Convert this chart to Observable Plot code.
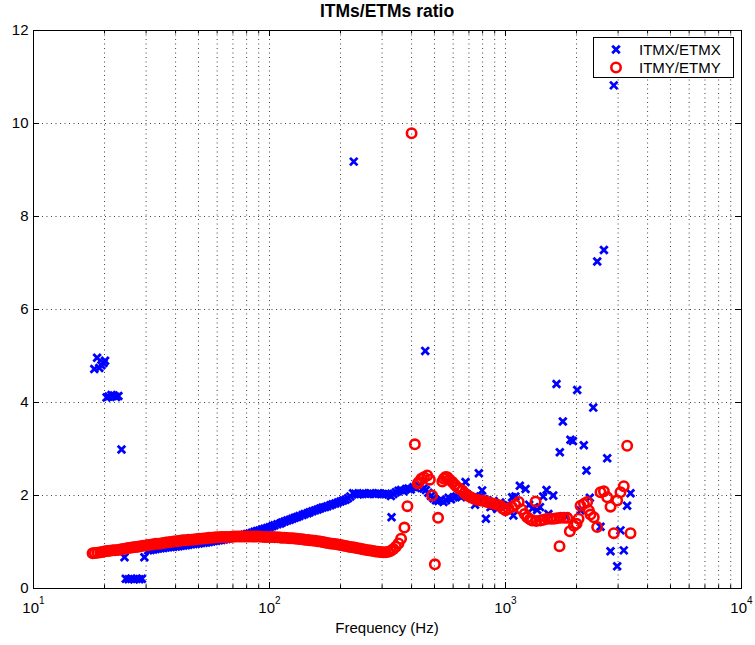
<!DOCTYPE html>
<html><head><meta charset="utf-8">
<script src="https://cdn.jsdelivr.net/npm/d3@7"></script>
<script src="https://cdn.jsdelivr.net/npm/@observablehq/plot@0.6"></script>
<style>body{margin:0;background:#fff}#c{width:755px;height:645px}</style>
</head><body><div id="c"></div>
<script>
// ITMX/ETMX ratio: [frequency Hz, ratio]
const itmx = [[18.1,4.72],[18.6,4.96],[19.0,4.74],[19.4,4.80],[19.8,4.85],[20.1,4.90],
[20.4,4.11],[20.8,4.13],[21.4,4.16],[21.9,4.15],[22.4,4.12],[22.9,4.14],[23.6,2.99],[24.3,0.67],
[24.6,0.21],[25.3,0.20],[26.0,0.21],[26.7,0.20],[27.4,0.21],[28.1,0.20],[28.8,0.21],[29.5,0.67],
[30.6,.82],[31.4,.83],[32.2,.84],[33.0,.85],[33.8,.86],[34.6,.865],[35.5,.87],[36.4,.88],[37.3,.885],
[38.2,.89],[39.2,.90],[40.2,.905],[41.2,.91],[42.2,.92],[43.2,.925],[44.3,.93],[45.4,.94],[46.6,.95],
[47.7,.955],[48.9,.96],[50.2,.97],[51.4,.98],[52.7,.985],[54.0,.99],[55.4,1.00],[56.8,1.01],[58.2,1.02],
[59.6,1.025],[61.1,1.035],[62.6,1.045],[64.2,1.055],[65.8,1.065],[67.5,1.08],[69.2,1.09],[70.9,1.10],
[72.7,1.115],[74.5,1.13],[76.3,1.14],[78.2,1.155],[80.2,1.17],[82.2,1.185],[84.3,1.20],[86.4,1.22],
[88.5,1.235],[90.7,1.25],[93.0,1.27],[95.3,1.285],[97.7,1.30],[100.2,1.32],[102.7,1.34],[105,1.36],
[108,1.38],[111,1.40],[113,1.42],[116,1.44],[119,1.46],[122,1.48],[125,1.50],[128,1.52],[131,1.54],
[134,1.56],[138,1.58],[141,1.60],[145,1.62],[148,1.64],[152,1.66],[156,1.68],[160,1.70],[164,1.72],
[168,1.74],[172,1.75],[176,1.77],[181,1.79],[185,1.81],[190,1.83],[195,1.85],[200,1.87],[205,1.89],
[210,1.91],[215,1.94],[220,1.98],[226,2.05],[227.5,9.18],[231,2.04],[237,2.02],[243,2.03],[249,2.05],
[255,2.04],[262,2.03],[268,2.05],[275,2.04],[282,2.03],[289,2.05],[296,2.04],[303,2.03],[311,2.04],
[319,2.02],[327,1.99],[329,1.53],[335,2.03],[343,2.07],[352,2.10],[361,2.12],[370,2.09],[379,2.14],
[388,2.15],[397,2.13],[407,2.18],[417,2.16],[427,2.21],[438,2.22],[449,2.15],[457,5.11],[460,2.12],
[471,2.06],[483,1.99],[495,1.94],[507,1.90],[520,1.88],[533,1.91],[546,1.86],[560,1.90],[574,1.95],
[588,1.92],[603,1.96],[618,1.98],[633,2.02],[649,1.96],[665,2.00],[677,2.29],[690,2.02],[707,1.98],
[725,1.94],[743,1.80],[762,1.95],[771,2.48],[781,1.98],[796,2.11],[810,1.92],[826,1.50],[840,1.90],
[864,1.75],[890,1.88],[922,1.71],[950,1.85],[984,1.78],[1020,1.80],[1067,1.96],[1080,1.57],[1101,1.98],
[1150,2.21],[1216,2.14],[1260,1.80],[1300,1.72],[1361,1.69],[1400,1.75],[1444,1.98],[1492,2.12],
[1520,1.60],[1593,2.00],[1645,4.40],[1699,2.93],[1750,3.59],[1800,1.55],[1884,3.20],[1930,3.17],
[2013,4.27],[2080,1.68],[2147,3.08],[2203,2.54],[2276,1.95],[2354,3.89],[2447,7.03],[2527,1.33],
[2612,7.28],[2698,2.80],[2786,0.80],[2877,10.82],[2973,0.48],[3070,1.25],[3171,0.82],[3276,1.78],
[3386,2.05]];

// ITMY/ETMY ratio: [frequency Hz, ratio]
const itmy = [[17.8,.76],[18.2,.765],[18.7,.77],[19.2,.78],[19.6,.785],[20.1,.80],[20.6,.805],[21.1,.81],
[21.7,.82],[22.2,.825],[22.8,.83],[23.3,.84],[23.9,.85],[24.5,.855],[25.1,.87],[25.8,.875],[26.4,.885],
[27.1,.89],[27.7,.90],[28.4,.91],[29.1,.92],[29.9,.925],[30.6,.935],[31.4,.94],[32.2,.95],[33.0,.96],
[33.8,.965],[34.6,.97],[35.5,.98],[36.4,.99],[37.3,.995],[38.2,1.00],[39.2,1.01],[40.2,1.015],[41.2,1.02],
[42.2,1.03],[43.2,1.035],[44.3,1.04],[45.4,1.05],[46.6,1.05],[47.7,1.055],[48.9,1.06],[50.2,1.07],
[51.4,1.07],[52.7,1.075],[54.0,1.08],[55.4,1.09],[56.8,1.09],[58.2,1.095],[59.6,1.10],[61.1,1.10],
[62.6,1.105],[64.2,1.11],[65.8,1.11],[67.5,1.11],[69.2,1.115],[70.9,1.12],[72.7,1.12],[74.5,1.12],
[76.3,1.12],[78.2,1.12],[80.2,1.12],[82.2,1.12],[84.3,1.12],[86.4,1.12],[88.5,1.12],[90.7,1.12],
[93.0,1.115],[95.3,1.11],[97.7,1.11],[100.2,1.11],[102.7,1.105],[105,1.10],[108,1.10],[111,1.095],
[113,1.09],[116,1.09],[119,1.085],[122,1.08],[125,1.08],[128,1.075],[131,1.07],[134,1.065],[138,1.06],
[141,1.05],[145,1.045],[148,1.04],[152,1.03],[156,1.025],[160,1.015],[164,1.01],[168,1.00],[172,.99],
[176,.98],[181,.97],[185,.965],[190,.955],[195,.945],[200,.935],[205,.925],[210,.915],[215,.905],
[220,.895],[226,.885],[231,.875],[237,.865],[243,.855],[249,.845],[255,.835],[262,.825],[268,.815],
[275,.805],[282,.795],[289,.79],[296,.785],[303,.78],[311,.78],[319,.79],[327,.81],[335,.85],[343,.90],
[352,.97],[361,1.07],[373,1.31],[384,1.77],[400,9.79],[413,3.10],[425,2.26],[430,2.29],[440,2.36],
[451,2.39],[466,2.43],[478,2.34],[489,2.00],[502,0.52],[518,1.52],[540,2.30],[548,2.36],[557,2.40],
[567,2.39],[580,2.34],[595,2.29],[610,2.23],[624,2.18],[640,2.14],[656,2.11],[672,2.05],[689,2.00],
[712,1.96],[735,1.93],[760,1.91],[784,1.89],[810,1.88],[836,1.86],[864,1.84],[892,1.82],[922,1.80],
[952,1.78],[975,1.72],[1000,1.68],[1030,1.72],[1067,1.75],[1100,1.80],[1138,1.86],[1170,1.70],
[1205,1.60],[1236,1.53],[1270,1.49],[1297,1.46],[1341,1.87],[1350,1.45],[1406,1.46],[1450,1.48],
[1502,1.50],[1550,1.50],[1602,1.50],[1650,1.51],[1694,0.91],[1711,1.52],[1770,1.52],[1825,1.52],
[1873,1.23],[1950,1.35],[2000,1.39],[2040,1.50],[2080,1.78],[2150,1.82],[2219,1.86],[2255,1.68],
[2291,1.59],[2367,1.53],[2445,1.32],[2527,2.07],[2612,2.09],[2698,1.96],[2786,1.76],[2877,1.19],
[2973,1.89],[3070,2.07],[3171,2.20],[3278,3.07],[3386,1.19]];

const xMajor = [10, 100, 1000, 10000];
const xMinor = [20,30,40,50,60,70,80,90,200,300,400,500,600,700,800,900,2000,3000,4000,5000,6000,7000,8000,9000];
const yTicks = [0, 2, 4, 6, 8, 10, 12];
const seriesNames = ["ITMX/ETMX", "ITMY/ETMY"];
const titleText = "ITMs/ETMs ratio";
const xLabel = "Frequency (Hz)";

const W = 755, H = 645, mL = 33, mR = 14, mT = 30, mB = 57;
const fw = W - mL - mR, fh = H - mT - mB;
const font = "'Liberation Sans', Arial, Helvetica, sans-serif";
const grid = {stroke: "#000", strokeOpacity: 0.75, strokeDasharray: "1,3.5", strokeWidth: 1};
const blueStyle = {symbol: "times", r: 3.5, stroke: "#0000ff", strokeWidth: 2.8};
const redStyle = {symbol: "circle", r: 4.7, stroke: "#ff0000", strokeWidth: 2.6, fill: "none"};

const chart = Plot.plot({
  width: W, height: H, marginLeft: mL, marginRight: mR, marginTop: mT, marginBottom: mB,
  style: {fontFamily: font, background: "#fff", color: "#000"},
  x: {type: "log", domain: [10, 10000], axis: null},
  y: {domain: [0, 12], axis: null},
  marks: [
    Plot.ruleX([...xMinor, 100, 1000], {x: d => d, ...grid}),
    Plot.ruleY(yTicks.filter(d => d > 0 && d < 12), {y: d => d, ...grid}),
    Plot.dot(itmx, {x: d => d[0], y: d => d[1], ...blueStyle}),
    Plot.dot(itmy, {x: d => d[0], y: d => d[1], ...redStyle}),
    Plot.frame({stroke: "#000", strokeWidth: 1}),
    Plot.tickX(xMajor, {x: d => d, insetTop: fh - 6, stroke: "#000"}),
    Plot.tickX(xMajor, {x: d => d, insetBottom: fh - 6, stroke: "#000"}),
    Plot.tickX(xMinor, {x: d => d, insetTop: fh - 3.5, stroke: "#000"}),
    Plot.tickX(xMinor, {x: d => d, insetBottom: fh - 3.5, stroke: "#000"}),
    Plot.tickY(yTicks, {y: d => d, insetRight: fw - 6, stroke: "#000"}),
    Plot.tickY(yTicks, {y: d => d, insetLeft: fw - 6, stroke: "#000"}),
    Plot.text(yTicks, {x: 10, y: d => d, text: d => String(d), textAnchor: "end", dx: -5, fontSize: 15, fill: "#000"}),
    Plot.text(xMajor, {x: d => d, y: 0, text: () => "10", textAnchor: "end", dx: 5.5, dy: 20, fontSize: 15, fill: "#000"}),
    Plot.text(xMajor, {x: d => d, y: 0, text: d => String(Math.round(Math.log10(d))), textAnchor: "start", dx: 5.5, dy: 12.5, fontSize: 10, fill: "#000"})
  ]
});
document.getElementById("c").appendChild(chart);

const svg = d3.select(chart);
svg.append("text").attr("x", mL + fw / 2).attr("y", 17).attr("text-anchor", "middle")
  .attr("font-family", font).attr("font-size", 17.5).attr("font-weight", "bold").attr("fill", "#000").text(titleText);
svg.append("text").attr("x", mL + fw / 2).attr("y", 633).attr("text-anchor", "middle")
  .attr("font-family", font).attr("font-size", 15).attr("fill", "#000").text(xLabel);

const lg = svg.append("g").attr("text-anchor", "start");
lg.append("rect").attr("x", 593.5).attr("y", 37.5).attr("width", 140).attr("height", 40)
  .attr("fill", "#fff").attr("stroke", "#000").attr("stroke-width", 1);
lg.append("path").attr("transform", "translate(616,49.5)")
  .attr("d", d3.symbol(d3.symbolTimes, Math.PI * blueStyle.r * blueStyle.r)())
  .attr("fill", "none").attr("stroke", blueStyle.stroke).attr("stroke-width", blueStyle.strokeWidth);
lg.append("circle").attr("cx", 616).attr("cy", 67.5).attr("r", redStyle.r)
  .attr("fill", "none").attr("stroke", redStyle.stroke).attr("stroke-width", redStyle.strokeWidth);
seriesNames.forEach((s, i) => {
  lg.append("text").attr("x", 639).attr("y", 54.5 + i * 18).attr("text-anchor", "start")
    .attr("font-family", font).attr("font-size", 15).attr("fill", "#000").text(s);
});
</script></body></html>
